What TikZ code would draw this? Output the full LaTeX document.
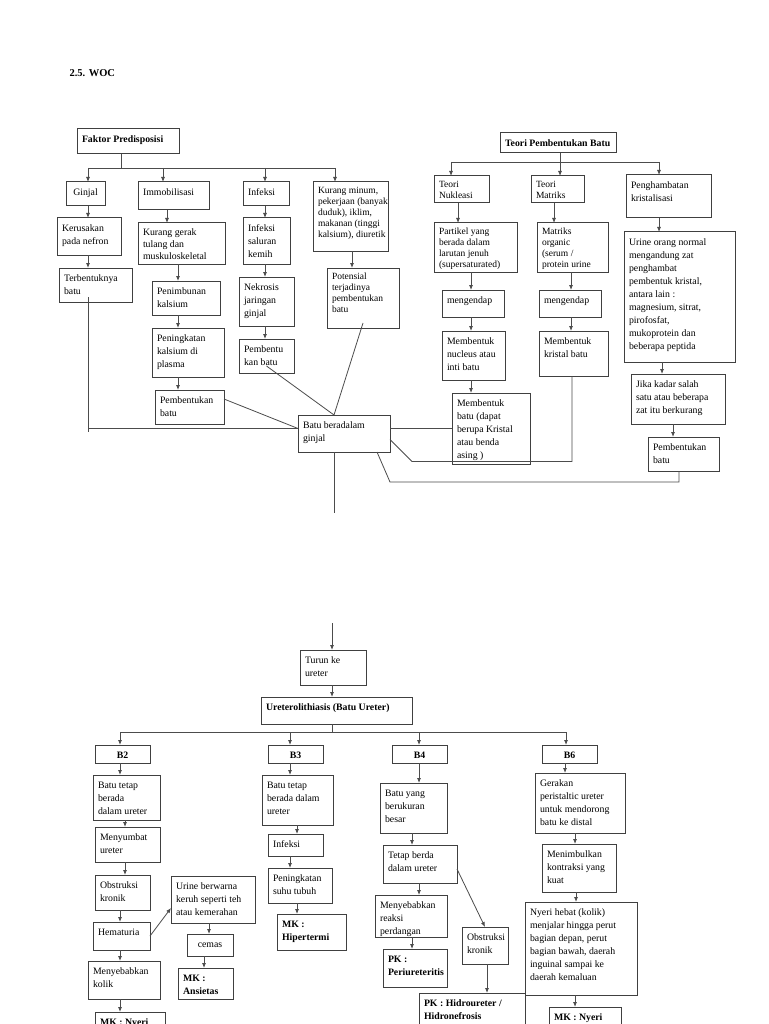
\documentclass[tikz,border=0pt]{standalone}
\usepackage{fontspec}
\setmainfont{Liberation Serif}
\usetikzlibrary{arrows.meta}

\newcommand{\bt}[3]{\parbox[c][\dimexpr#2pt-8pt\relax][t]{\dimexpr#1pt-10pt\relax}{\begin{tabular}[t]{@{}l@{}}#3\end{tabular}}}
\newcommand{\bc}[3]{\parbox[c][\dimexpr#2pt-8pt\relax][t]{\dimexpr#1pt-10pt\relax}{\centering\begin{tabular}[t]{@{}c@{}}#3\end{tabular}}}

\tikzset{
  kotak/.style={draw=black!75, line width=1pt, inner xsep=5pt, inner ysep=4pt, outer sep=0pt,
    anchor=north west, font=\fontsize{9.8}{13}\selectfont},
  rapat/.style={font=\fontsize{9.5}{11}\selectfont},
  sedang/.style={font=\fontsize{9.8}{12}\selectfont},
  tebal/.style={font=\fontsize{9.8}{13}\selectfont\bfseries},
  garis/.style={draw=black!70, line width=0.8pt},
  panah/.style={garis, -{Latex[length=5pt,width=4pt]}}
}

\begin{document}
\begin{tikzpicture}[x=1pt, y=-1pt]
  \fill[white] (0,0) rectangle (768,1024);
  \useasboundingbox (0,0) rectangle (768,1024);

  \node[anchor=base west, font=\fontsize{10.5}{12}\selectfont\bfseries] (judul) at (66,77) {2.5. WOC};

  \node[kotak, tebal] (fakt) at (77,129) {\bt{102}{25}{Faktor Predisposisi}};
  \node[kotak] (ginjal) at (66,182) {\bc{39}{24}{Ginjal}};
  \node[kotak] (imob) at (138,182) {\bt{71}{28}{Immobilisasi}};
  \node[kotak] (infeksi) at (243,182) {\bt{46}{24}{Infeksi}};
  \node[kotak, rapat] (kurang) at (313,182) {\bt{75}{69}{Kurang minum,\\pekerjaan (banyak\\duduk), iklim,\\makanan (tinggi\\kalsium), diuretik}};
  \node[kotak] (kerus) at (57,218) {\bt{64}{37}{Kerusakan\\pada nefron}};
  \node[kotak] (terbent) at (59,268) {\bt{73}{34}{Terbentuknya\\batu}};
  \node[kotak, sedang] (kurgerak) at (138,223) {\bt{87}{41}{Kurang gerak\\tulang dan\\muskuloskeletal}};
  \node[kotak] (penimb) at (152,281) {\bt{68}{34}{Penimbunan\\kalsium}};
  \node[kotak] (pening) at (152,328) {\bt{72}{49}{Peningkatan\\kalsium di\\plasma}};
  \node[kotak] (pembimob) at (155,390) {\bt{69}{34}{Pembentukan\\batu}};
  \node[kotak] (infsal) at (243,218) {\bt{47}{46}{Infeksi\\saluran\\kemih}};
  \node[kotak] (nekro) at (239,277) {\bt{55}{49}{Nekrosis\\jaringan\\ginjal}};
  \node[kotak] (pembinf) at (239,339) {\bt{55}{34}{Pembentu\\kan batu}};
  \node[kotak, rapat] (poten) at (327,268) {\bt{72}{60}{Potensial\\terjadinya\\pembentukan\\batu}};
  \node[kotak] (batu) at (298,415) {\bt{92}{37}{Batu beradalam\\ginjal}};

  \node[kotak, tebal] (teori) at (500,133) {\bt{116}{20}{Teori Pembentukan Batu}};
  \node[kotak, rapat] (nukl) at (434,176) {\bt{55}{27}{Teori\\Nukleasi}};
  \node[kotak, rapat] (matr) at (531,176) {\bt{53}{27}{Teori\\Matriks}};
  \node[kotak] (hamb) at (626,175) {\bt{85}{43}{Penghambatan\\kristalisasi}};
  \node[kotak, rapat] (partikel) at (434,223) {\bt{83}{49}{Partikel yang\\berada dalam\\larutan jenuh\\(supersaturated)}};
  \node[kotak, rapat] (matorg) at (537,223) {\bt{71}{49}{Matriks\\organic\\(serum /\\protein urine}};
  \node[kotak] (urine) at (624,232) {\bt{111}{130}{Urine orang normal\\mengandung zat\\penghambat\\pembentuk kristal,\\antara lain :\\magnesium, sitrat,\\pirofosfat,\\mukoprotein dan\\beberapa peptida}};
  \node[kotak] (meng1) at (442,290) {\bt{62}{27}{mengendap}};
  \node[kotak] (meng2) at (539,290) {\bt{62}{27}{mengendap}};
  \node[kotak] (nukleus) at (442,331) {\bt{63}{49}{Membentuk\\nucleus atau\\inti batu}};
  \node[kotak] (kristal) at (539,331) {\bt{69}{45}{Membentuk\\kristal batu}};
  \node[kotak] (membatu) at (452,393) {\bt{78}{71}{Membentuk\\batu (dapat\\berupa Kristal\\atau benda\\asing )}};
  \node[kotak] (jika) at (631,374) {\bt{94}{50}{Jika kadar salah\\satu atau beberapa\\zat itu berkurang}};
  \node[kotak] (pembr) at (648,437) {\bt{71}{34}{Pembentukan\\batu}};

  \node[kotak] (turun) at (300,650) {\bt{66}{35}{Turun ke\\ureter}};
  \node[kotak, tebal] (uretero) at (261,697) {\bt{151}{27}{Ureterolithiasis (Batu Ureter)}};
  \node[kotak, tebal] (b2) at (95,745) {\bc{55}{18}{B2}};
  \node[kotak] (b2a) at (93,775) {\bt{67}{45}{Batu tetap\\berada\\dalam ureter}};
  \node[kotak] (b2b) at (95,827) {\bt{65}{35}{Menyumbat\\ureter}};
  \node[kotak] (b2c) at (95,875) {\bt{55}{35}{Obstruksi\\kronik}};
  \node[kotak] (b2d) at (93,922) {\bt{57}{28}{Hematuria}};
  \node[kotak] (b2e) at (88,961) {\bt{72}{38}{Menyebabkan\\kolik}};
  \node[kotak, tebal] (b2f) at (95,1012) {\bt{70}{30}{MK : Nyeri}};
  \node[kotak] (urkeruh) at (171,876) {\bt{84}{47}{Urine berwarna\\keruh seperti teh\\atau kemerahan}};
  \node[kotak] (cemas) at (187,934) {\bc{46}{22}{cemas}};
  \node[kotak, tebal] (ansietas) at (178,968) {\bt{55}{31}{MK :\\Ansietas}};
  \node[kotak, tebal] (b3) at (268,745) {\bc{55}{18}{B3}};
  \node[kotak] (b3a) at (262,775) {\bt{71}{50}{Batu tetap\\berada dalam\\ureter}};
  \node[kotak] (b3b) at (268,834) {\bt{55}{22}{Infeksi}};
  \node[kotak] (b3c) at (268,868) {\bt{64}{35}{Peningkatan\\suhu tubuh}};
  \node[kotak, tebal] (b3d) at (277,914) {\bt{69}{36}{MK :\\Hipertermi}};
  \node[kotak, tebal] (b4) at (392,745) {\bc{55}{18}{B4}};
  \node[kotak] (b4a) at (380,783) {\bt{67}{50}{Batu yang\\berukuran\\besar}};
  \node[kotak] (b4b) at (383,845) {\bt{74}{38}{Tetap berda\\dalam ureter}};
  \node[kotak] (b4c) at (375,895) {\bt{72}{42}{Menyebabkan\\reaksi\\perdangan}};
  \node[kotak, tebal] (b4d) at (383,949) {\bt{64}{38}{PK :\\Periureteritis}};
  \node[kotak] (b4e) at (462,927) {\bt{46}{37}{Obstruksi\\kronik}};
  \node[kotak, tebal] (b4f) at (419,993) {\bt{106}{40}{PK : Hidroureter /\\Hidronefrosis}};
  \node[kotak, tebal] (b6) at (542,745) {\bc{55}{18}{B6}};
  \node[kotak] (b6a) at (535,773) {\bt{90}{60}{Gerakan\\peristaltic ureter\\untuk mendorong\\batu ke distal}};
  \node[kotak] (b6b) at (542,844) {\bt{74}{48}{Menimbulkan\\kontraksi yang\\kuat}};
  \node[kotak] (b6c) at (525,902) {\bt{112}{93}{Nyeri hebat (kolik)\\menjalar hingga perut\\bagian depan, perut\\bagian bawah, daerah\\inguinal sampai ke\\daerah kemaluan}};
  \node[kotak, tebal] (b6d) at (549,1007) {\bt{72}{30}{MK : Nyeri}};

  \coordinate (busL) at (121,168);
  \coordinate (busR) at (560,162);
  \coordinate (busB) at (332,732);
  \coordinate (atasB) at (332,623);
  \coordinate (batuL) at ([yshift=5pt]batu.west);
  \coordinate (batuT) at ([xshift=-10pt]batu.north);

  \draw[garis] (fakt.south -| busL) -- (busL);
  \draw[garis] (busL -| 88,0) -- (busL -| 335,0);
  \foreach \n/\x in {ginjal/88, imob/163, infeksi/265, kurang/335}
    \draw[panah] (busL -| \x,0) -- (\n.north -| \x,0);

  \draw[garis] (teori.south -| busR) -- (busR);
  \draw[garis] (busR -| 451,0) -- (busR -| 659,0);
  \foreach \n/\x in {nukl/451, matr/560, hamb/659}
    \draw[panah] (busR -| \x,0) -- (\n.north -| \x,0);

  \draw[panah] (atasB) -- (turun.north -| atasB);
  \draw[garis] (uretero.south -| busB) -- (busB);
  \draw[garis] (busB -| 120,0) -- (busB -| 566,0);
  \foreach \n/\x in {b2/120, b3/290, b4/419, b6/566}
    \draw[panah] (busB -| \x,0) -- (\n.north -| \x,0);

  \foreach \a/\b/\x in {ginjal/kerus/88, kerus/terbent/88, imob/kurgerak/167, kurgerak/penimb/178,
      penimb/pening/178, pening/pembimob/178, infeksi/infsal/265, infsal/nekro/265, nekro/pembinf/265,
      kurang/poten/352, nukl/partikel/458, matr/matorg/554, hamb/urine/659, partikel/meng1/471,
      matorg/meng2/571, meng1/nukleus/471, meng2/kristal/571, nukleus/membatu/471, urine/jika/662,
      jika/pembr/673, turun/uretero/332, b2/b2a/120, b2a/b2b/125, b2b/b2c/125, b2c/b2d/120,
      b2d/b2e/120, b2e/b2f/120, urkeruh/cemas/209, cemas/ansietas/204, b3/b3a/290, b3a/b3b/297,
      b3b/b3c/290, b3c/b3d/297, b4/b4a/419, b4a/b4b/412, b4b/b4c/419, b4c/b4d/412, b4e/b4f/487,
      b6/b6a/565, b6a/b6b/575, b6b/b6c/576, b6c/b6d/575}
    \draw[panah] (\a.south -| \x,0) -- (\b.north -| \x,0);

  \draw[garis] ([yshift=5pt]terbent.south -| 88,0) -- (88,432);
  \draw[garis] (88,0 |- batuL) -- (batuL);
  \draw[garis] ([yshift=8pt]pembimob.east) -- (batuL);
  \draw[garis] ([yshift=7pt]pembinf.south) -- (batuT);
  \draw[garis] ([yshift=5pt]poten.south) -- (batuT);
  \draw[garis] (batuT |- batu.south) -- ++(0,61);
  \draw[garis] ([yshift=5pt]batu.east) -- (membatu.west);
  \draw[garis] ([yshift=-6pt]batu.east) -- ++(22,22) -| (kristal.south -| 572,0);
  \draw[garis] ([xshift=33pt]batu.south) -- ++(13,30) -| (pembr.south -| 679,0);

  \draw[panah] (b2d.east) -- ([yshift=15pt]urkeruh.south west);
  \draw[panah] ([yshift=-5pt]b4b.east) -- (b4e.north);
\end{tikzpicture}
\end{document}
